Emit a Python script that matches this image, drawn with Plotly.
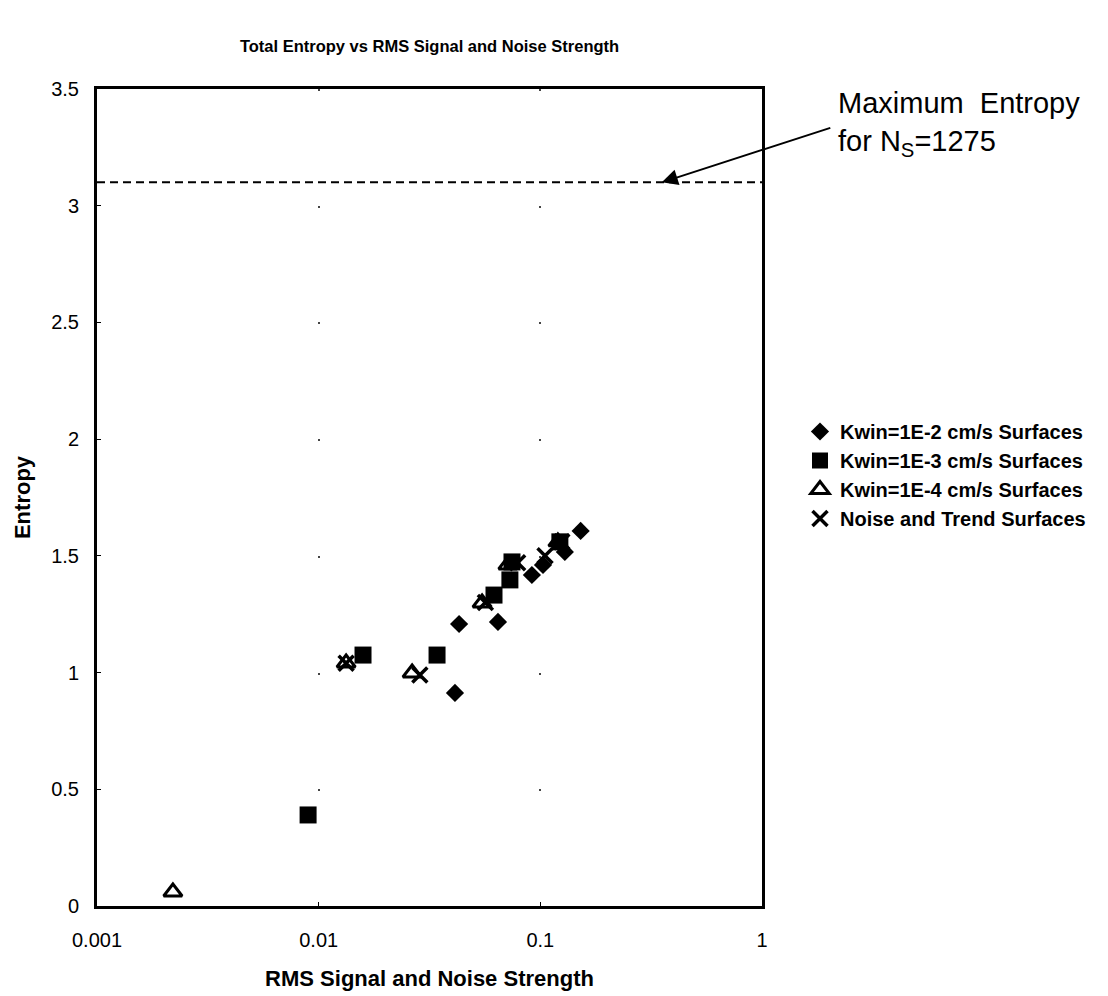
import plotly.graph_objects as go

# RMS signal/noise strength and total entropy for each surface family
k2_rms = [0.0412, 0.0430, 0.0644, 0.0916, 0.1028, 0.129, 0.152]
k2_entropy = [0.913, 1.208, 1.217, 1.418, 1.461, 1.517, 1.607]

k3_rms = [0.00896, 0.01585, 0.0342, 0.0618, 0.0729, 0.0745, 0.1225]
k3_entropy = [0.39, 1.075, 1.075, 1.332, 1.397, 1.474, 1.56]

k4_rms = [0.0022, 0.0133, 0.0264, 0.0546, 0.0714, 0.120]
k4_entropy = [0.06, 1.041, 0.998, 1.298, 1.461, 1.56]

noise_rms = [0.0133, 0.0286, 0.0565, 0.079, 0.105, 0.125]
noise_entropy = [1.04, 0.99, 1.30, 1.47, 1.50, 1.56]

series_names = [
    "Kwin=1E-2 cm/s Surfaces",
    "Kwin=1E-3 cm/s Surfaces",
    "Kwin=1E-4 cm/s Surfaces",
    "Noise and Trend Surfaces",
]

max_entropy = 3.1  # maximum entropy for Ns = 1275
x_range = [0.001, 1]
x_ticks = [0.001, 0.01, 0.1, 1]
x_tick_labels = ["0.001", "0.01", "0.1", "1"]

FONT = "Liberation Sans, Arial, sans-serif"

# plot area in pixels
L, R, T, B = 97, 346, 89, 90
W, H = 1108, 996
plot_w = W - L - R
plot_h = H - T - B
y_step_px = plot_h / 7.0  # seven 0.5-steps from 0 to 3.5

fig = go.Figure()

fig.add_trace(go.Scatter(
    x=k2_rms, y=k2_entropy, mode="markers", name=series_names[0],
    legendgroup="a",
    marker=dict(symbol="diamond", size=14, color="black"),
))
fig.add_trace(go.Scatter(
    x=k3_rms, y=k3_entropy, mode="markers", name=series_names[1],
    legendgroup="b",
    marker=dict(symbol="square", size=17, color="black"),
))
fig.add_trace(go.Scatter(
    x=k4_rms, y=k4_entropy, mode="markers", name=series_names[2],
    legendgroup="c",
    marker=dict(symbol="triangle-up-open", size=16, color="black",
                line=dict(width=3, color="black")),
))
fig.add_trace(go.Scatter(
    x=noise_rms, y=noise_entropy, mode="markers", name=series_names[3],
    legendgroup="d",
    marker=dict(symbol="x-thin-open", size=15, color="black",
                line=dict(width=3.5, color="black")),
))

# Dashed line marking the maximum entropy level
fig.add_trace(go.Scatter(
    x=x_range, y=[max_entropy, max_entropy], mode="lines",
    line=dict(color="black", width=2, dash="8px,5px"),
    showlegend=False, hoverinfo="skip",
))

# Callout for the maximum-entropy line
fig.add_annotation(
    x=-0.452, y=max_entropy, xref="x", yref="y",
    ax=170, ay=-55, axref="pixel", ayref="pixel",
    text="", showarrow=True, arrowhead=2, arrowsize=1.6,
    arrowwidth=2, arrowcolor="black",
)
fig.add_annotation(
    x=(836 - L) / plot_w, y=1 - (85 - T) / plot_h, xref="paper", yref="paper",
    xanchor="left", yanchor="top", align="left", showarrow=False,
    text="Maximum  Entropy<br>for N<sub>S</sub>=1275",
    font=dict(family=FONT, size=29, color="black"),
)

fig.update_layout(
    width=W, height=H,
    margin=dict(l=L, r=R, t=T, b=B, autoexpand=False),
    paper_bgcolor="white", plot_bgcolor="white",
    font=dict(family=FONT, color="black", size=20),
    title=dict(
        text="Total Entropy vs RMS Signal and Noise Strength",
        x=(L + plot_w / 2) / W, xanchor="center",
        y=1 - 46 / H, yanchor="middle",
        font=dict(family=FONT, size=16.5, weight="bold", color="black"),
    ),
    legend=dict(
        x=(800 - L) / plot_w, y=1 - (412 - T) / plot_h,
        xanchor="left", yanchor="top",
        font=dict(family=FONT, size=20, weight="bold", color="black"),
        tracegroupgap=0, itemwidth=30, bgcolor="rgba(0,0,0,0)",
    ),
    showlegend=True,
)

fig.update_xaxes(
    type="log", range=[-3, 0], automargin=False,
    tickvals=x_ticks, ticktext=x_tick_labels,
    showgrid=True, gridcolor="#444", gridwidth=2,
    griddash=f"2px,{y_step_px - 2:.3f}px",
    zeroline=False,
    showline=True, linecolor="black", linewidth=3, mirror=True,
    ticks="inside", ticklen=4, tickcolor="black",
    ticklabelstandoff=14,
    tickfont=dict(family=FONT, size=20),
    title=dict(text="RMS Signal and Noise Strength", standoff=21,
               font=dict(family=FONT, size=22, weight="bold")),
)
fig.update_yaxes(
    range=[0, 3.5], dtick=0.5, tick0=0, automargin=False,
    showgrid=False, zeroline=False,
    showline=True, linecolor="black", linewidth=3, mirror=True,
    ticks="inside", ticklen=4, tickcolor="black",
    ticklabelstandoff=11,
    tickfont=dict(family=FONT, size=20),
    title=dict(text="Entropy", standoff=15,
               font=dict(family=FONT, size=22, weight="bold")),
)

fig.write_html("out.html")
